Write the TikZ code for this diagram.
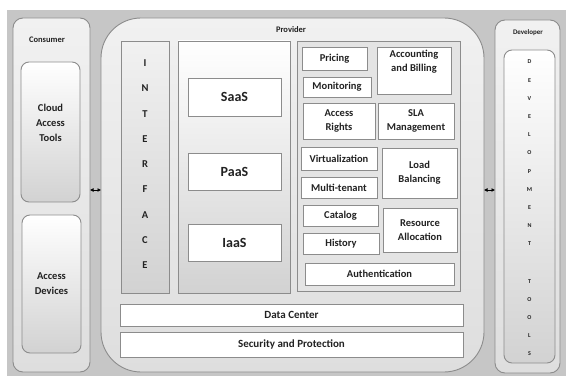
\documentclass[tikz,border=0pt]{standalone}
\usepackage{fontspec}
\setmainfont{Carlito}
\usetikzlibrary{arrows.meta}

\definecolor{backdrop}{HTML}{C6C6C6}
\definecolor{edge}{HTML}{8C8C8C}
\definecolor{panel}{HTML}{F1F1F1}
\definecolor{panellow}{HTML}{DEDEDE}
\definecolor{toollow}{HTML}{D2D2D2}
\definecolor{inner}{HTML}{E4E4E4}
\definecolor{txt}{HTML}{222222}

% box from corner (x1,y1) to corner (x2,y2), in pixels with y downwards
\newcommand\areabox[7][]{%
  \node[#1, minimum width={(#4)-(#2)}, minimum height={(#5)-(#3)}]
    (#6) at ({((#2)+(#4))/2},{((#3)+(#5))/2}) {#7};}

\tikzset{
  frame/.style={draw=edge, line width=0.9pt, inner sep=0pt, outer sep=0pt,
    text=txt, align=center},
  panelbox/.style={frame, rounded corners=10pt, top color=panel, bottom color=panellow},
  toolbox/.style={frame, rounded corners=8pt, top color=white, bottom color=toollow},
  column/.style={frame, top color=panel, bottom color=toollow},
  whitebox/.style={frame, fill=white},
  svc/.style={whitebox, font=\fontsize{10.5}{14}\selectfont\bfseries},
  layer/.style={whitebox, font=\fontsize{11}{14}\selectfont\bfseries},
  title/.style={text=txt, font=\fontsize{8.5}{10}\selectfont\bfseries},
  letter/.style={text=txt, font=\fontsize{10.5}{12}\selectfont\bfseries, inner sep=0pt},
  tiny/.style={text=txt, font=\fontsize{6}{6}\selectfont\bfseries, inner sep=0pt},
  link/.style={{Latex[length=3.5pt,width=4pt]}-{Latex[length=3.5pt,width=4pt]}, line width=0.6pt, black},
}

\begin{document}
\begin{tikzpicture}[x=1pt, y=-1pt]
\useasboundingbox (0,0) rectangle (568,377);
\fill[white] (0,0) rectangle (568,377);
\fill[backdrop] (7,10) rectangle (566,376);

% consumer side
\areabox[panelbox]{13}{18}{90}{372}{consumer}{}
\node[title] (consumerlbl) at (47,40) {Consumer};
\areabox[toolbox, font=\fontsize{10.5}{15}\selectfont\bfseries]{21}{62}{80}{202}{cat}{Cloud\\Access\\Tools\\[4pt]}
\areabox[toolbox, font=\fontsize{10.5}{15}\selectfont\bfseries]{22}{215}{81}{353}{devices}{Access\\Devices}

% provider
\areabox[frame, rounded corners=40pt, top color=panel, bottom color=panellow]{101}{18}{484}{372}{provider}{}
\node[title] (providerlbl) at (291,30) {Provider};

\areabox[column]{121}{41}{169}{293}{interface}{}
\foreach \ch [count=\i from 0] in {I,N,T,E,R,F,A,C,E}
  \node[letter] (if\i) at (145,{63+25.3*\i}) {\ch};

\areabox[frame, top color=white, bottom color=toollow]{178}{41}{290}{293}{models}{}
\areabox[whitebox, font=\fontsize{14}{16}\selectfont\bfseries]{188}{78}{281}{116}{saas}{SaaS}
\areabox[whitebox, font=\fontsize{14}{16}\selectfont\bfseries]{188}{153}{281}{190}{paas}{PaaS}
\areabox[whitebox, font=\fontsize{14}{16}\selectfont\bfseries]{188}{224}{281}{261}{iaas}{IaaS}

\areabox[frame, fill=inner]{297}{41}{460}{291}{services}{}
\areabox[svc]{302}{47}{367}{70}{pricing}{Pricing}
\areabox[svc]{303}{77}{371}{97}{monitoring}{Monitoring}
\areabox[svc]{377}{47}{451}{94}{billing}{Accounting\\and Billing\\[6pt]}
\areabox[svc]{303}{103}{375}{139}{rights}{Access\\Rights}
\areabox[svc]{378}{103}{454}{139}{sla}{SLA\\Management}
\areabox[svc]{301}{147}{377}{170}{virt}{Virtualization}
\areabox[svc]{382}{148}{457}{198}{balance}{Load\\Balancing}
\areabox[svc]{301}{177}{377}{198}{tenant}{Multi-tenant}
\areabox[svc]{303}{205}{378}{226}{catalog}{Catalog}
\areabox[svc]{303}{233}{379}{254}{history}{History}
\areabox[svc]{383}{208}{457}{252}{alloc}{Resource\\Allocation}
\areabox[svc]{305}{263}{454}{285}{auth}{Authentication}

\areabox[layer]{120}{304}{463}{326}{datacenter}{Data Center}
\areabox[layer]{120}{332}{463}{357}{security}{Security and Protection}

% developer side
\areabox[panelbox]{495}{20}{560}{373}{developer}{}
\node[title, font=\fontsize{7}{8}\selectfont\bfseries] (developerlbl) at (528,33) {Developer};
\areabox[toolbox]{504}{50}{555}{363}{devtools}{}
\foreach \ch [count=\i from 0] in {D,E,V,E,L,O,P,M,E,N,T}
  \node[tiny] (dv\i) at (529.5,{62+18.2*\i}) {\ch};
\foreach \ch [count=\i from 0] in {T,O,O,L,S}
  \node[tiny] (tl\i) at (529.5,{282+17.8*\i}) {\ch};

% links between the three parties
\coordinate (linky) at (0,190);
\draw[link] (consumer.east |- linky) -- (provider.west |- linky);
\draw[link] (provider.east |- linky) -- (developer.west |- linky);
\end{tikzpicture}
\end{document}
